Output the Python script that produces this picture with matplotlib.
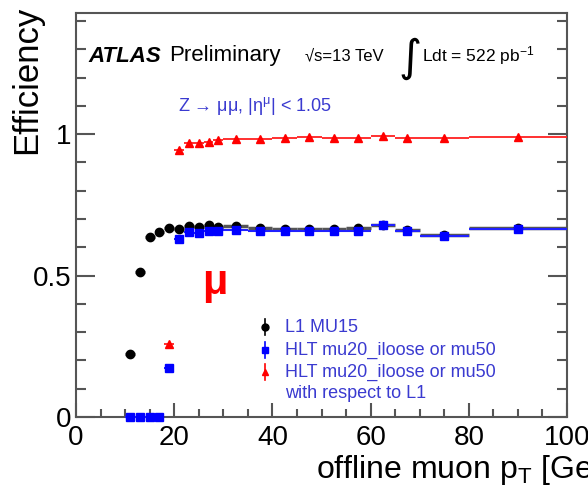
import numpy as np
import matplotlib
matplotlib.use('Agg')
import matplotlib.pyplot as plt
from matplotlib.ticker import MultipleLocator, FixedLocator, FixedFormatter

plt.rcParams['font.family'] = ['Liberation Sans', 'DejaVu Sans']
plt.rcParams['mathtext.fontset'] = 'custom'
plt.rcParams['mathtext.rm'] = 'Liberation Sans'
plt.rcParams['mathtext.it'] = 'Liberation Sans:italic'

# bin centres and half widths (GeV)
PT = [11, 13, 15, 17, 19, 21, 23, 25, 27, 29, 32.5, 37.5, 42.5, 47.5, 52.5,
      57.5, 62.5, 67.5, 75, 90]
PT_HW = [1, 1, 1, 1, 1, 1, 1, 1, 1, 1, 2.5, 2.5, 2.5, 2.5, 2.5, 2.5, 2.5,
         2.5, 5, 10]
# L1 MU15
EFF_L1 = [0.223, 0.512, 0.636, 0.654, 0.668, 0.664, 0.675, 0.671, 0.678,
          0.671, 0.675, 0.668, 0.666, 0.664, 0.665, 0.667, 0.680, 0.662,
          0.645, 0.667]
ERR_L1 = [0.008, 0.008, 0.007, 0.006, 0.006, 0.005, 0.005, 0.005, 0.005,
          0.005, 0.004, 0.004, 0.004, 0.004, 0.004, 0.005, 0.006, 0.007,
          0.007, 0.008]
# HLT mu20_iloose or mu50
EFF_HLT = [0.0, 0.0, 0.0, 0.0, 0.173, 0.629, 0.654, 0.650, 0.657, 0.657,
           0.661, 0.657, 0.657, 0.656, 0.656, 0.658, 0.678, 0.657, 0.640,
           0.664]
ERR_HLT = [0.003, 0.003, 0.003, 0.003, 0.007, 0.006, 0.005, 0.005, 0.005,
           0.005, 0.004, 0.004, 0.004, 0.004, 0.004, 0.005, 0.006, 0.007,
           0.007, 0.008]
# HLT wrt L1 (from 19 GeV)
PT_REL = PT[4:]
PT_REL_HW = PT_HW[4:]
EFF_REL = [0.258, 0.943, 0.968, 0.968, 0.972, 0.979, 0.982, 0.982, 0.986,
           0.989, 0.986, 0.986, 0.993, 0.986, 0.986, 0.989]
ERR_REL = [0.008, 0.006, 0.004, 0.004, 0.003, 0.003, 0.002, 0.002, 0.002,
           0.002, 0.002, 0.002, 0.003, 0.003, 0.003, 0.003]

LEG_LABELS = ['L1 MU15', 'HLT mu20_iloose or mu50',
              'HLT mu20_iloose or mu50', 'with respect to L1']
TXT_BLUE = '#3a3ad0'

fig = plt.figure(figsize=(5.88, 4.98), dpi=100)
ax = fig.add_axes([76 / 588, 1 - 417 / 498, 491 / 588, 404 / 498])

ax.errorbar(PT, EFF_L1, xerr=PT_HW, yerr=ERR_L1, fmt='o', color='black',
            ms=6, ecolor='#555555', elinewidth=2.5, capsize=0, zorder=3)
ax.errorbar(PT, EFF_HLT, xerr=PT_HW, yerr=ERR_HLT, fmt='s', color='#0000ff',
            ms=5.5, ecolor='#2020ff', elinewidth=1.5, capsize=0, zorder=4,
            clip_on=False)
ax.errorbar(PT_REL, EFF_REL, xerr=PT_REL_HW, yerr=ERR_REL, fmt='^',
            color='#ff0000', ms=5.5, ecolor='#ff2020', elinewidth=1.3,
            capsize=0, zorder=5)

ax.set_xlim(0, 100)
ax.set_ylim(0, 1.428)
ax.xaxis.set_major_locator(MultipleLocator(20))
ax.xaxis.set_minor_locator(MultipleLocator(5))
ax.yaxis.set_major_locator(FixedLocator([0, 0.5, 1]))
ax.yaxis.set_major_formatter(FixedFormatter(['0', '0.5', '1']))
ax.yaxis.set_minor_locator(MultipleLocator(0.1))
ax.tick_params(which='both', direction='in', right=True, top=False,
               color='#555555', labelsize=20, width=1.5)
ax.tick_params(axis='y', which='major', length=14, pad=3)
ax.tick_params(axis='y', which='minor', length=7)
ax.tick_params(axis='x', which='major', length=10, pad=6)
ax.tick_params(axis='x', which='minor', length=6)
for s in ax.spines.values():
    s.set_color('#555555')
    s.set_linewidth(1.5)

# axis titles (ROOT style, at the ends)
fig.text(316 / 588, 1 - 470 / 498, 'offline muon p$_{\\mathrm{T}}$ [GeV]',
         fontsize=23, ha='left', va='center')
fig.text(27 / 588, 1 - 6 / 498, 'Efficiency', fontsize=25, rotation=90,
         ha='center', va='top')

# labels
fig.text(88 / 588, 1 - 56 / 498, 'ATLAS', fontsize=16, fontweight='bold',
         fontstyle='italic', va='center')
fig.text(169 / 588, 1 - 56 / 498, 'Preliminary', fontsize=16, va='center')
fig.text(305 / 588, 1 - 56 / 498, '\u221as=13 TeV', fontsize=12,
         va='center', family=['DejaVu Sans'] if False else None)
fig.text(398 / 588, 1 - 58 / 498, '\u222b', fontsize=32, va='center',
         family=['DejaVu Sans'])
fig.text(422 / 588, 1 - 56 / 498, 'Ldt = 522 pb$^{\\mathrm{-1}}$',
         fontsize=12.5, va='center')
fig.text(178 / 588, 1 - 106 / 498,
         'Z \u2192 \u03bc\u03bc, |\u03b7$^{\\mathrm{\u03bc}}$| < 1.05',
         fontsize=13, color=TXT_BLUE, va='center')
fig.text(215 / 588, 1 - 283 / 498, '\u03bc', fontsize=30, color='#ff0000',
         fontweight='bold', ha='center', va='center')

# legend drawn by hand
leg_y = [327, 350, 372, 394]
leg_x = 265
for txt, yy in zip(LEG_LABELS, leg_y):
    fig.text(285 / 588, 1 - yy / 498, txt, fontsize=13, color=TXT_BLUE,
             va='center')
for (mk, col, ms), yy in zip([('o', 'black', 5), ('s', '#0000ff', 4.5),
                              ('^', '#ff0000', 4.5)], leg_y[:3]):
    fx, fy = leg_x / 588, 1 - yy / 498
    fig.add_artist(plt.Line2D([fx, fx], [fy - 8 / 498, fy + 8 / 498],
                              color=col, lw=1.2, transform=fig.transFigure))
    fig.add_artist(plt.Line2D([fx], [fy], marker=mk, color=col, ms=ms,
                              transform=fig.transFigure))

fig.savefig('out.png', dpi=100)
